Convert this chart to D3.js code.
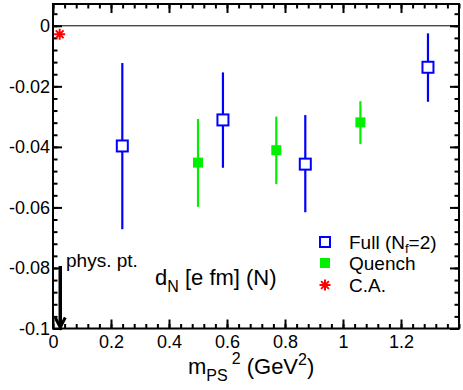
<!DOCTYPE html>
<html>
<head>
<meta charset="utf-8">
<script src="https://cdn.jsdelivr.net/npm/d3@7"></script>
<style>
  body { margin: 0; background: #fff; }
  svg { display: block; font-family: "Liberation Sans", Arial, sans-serif; }
</style>
</head>
<body>
<div id="chart"></div>
<script>
"use strict";

// Full (Nf=2) lattice points: x, central value, error bar top / bottom
const fullX = [0.239, 0.586, 0.870, 1.293];
const fullY = [-0.0397, -0.0311, -0.0457, -0.0137];
const fullHi = [-0.0123, -0.0154, -0.0295, -0.0025];
const fullLo = [-0.0672, -0.0469, -0.0616, -0.0251];

// Quenched points
const quenchX = [0.500, 0.770, 1.060];
const quenchY = [-0.0452, -0.0411, -0.0319];
const quenchHi = [-0.0308, -0.0300, -0.0249];
const quenchLo = [-0.0598, -0.0523, -0.0391];

// C.A. point
const caX = [0.023];
const caY = [-0.0028];

const xMajor = [0, 0.2, 0.4, 0.6, 0.8, 1, 1.2];
const yMajor = [0, -0.02, -0.04, -0.06, -0.08, -0.1];

const legendLabels = ["Full (N", "Quench", "C.A."];

const WIDTH = 463;
const HEIGHT = 390;
const LEFT = 53;
const RIGHT = 459;
const TOP = 4;
const BOTTOM = 328.5;

const BLUE = "#0000ff";
const GREEN = "#00f000";
const RED = "#ff0000";

const svg = d3.select("#chart").append("svg")
    .attr("width", WIDTH)
    .attr("height", HEIGHT);

const x = d3.scaleLinear().domain([0, 1.4]).range([LEFT, RIGHT]);
const y = d3.scaleLinear().domain([-0.1, 0.0072]).range([BOTTOM, TOP]);

const xMinor = d3.range(0, 1.4001, 0.04).map(function (d) { return +d.toFixed(2); });
const yMinor = d3.range(-0.1, 0.0072, 0.004).map(function (d) { return +d.toFixed(3); });

function fmt(d) {
    return d === 0 ? "0" : String(+d.toFixed(2));
}

function styleAxis(g) {
    g.select(".domain").remove();
    g.selectAll("line").attr("stroke", "#000").attr("stroke-width", 2);
    g.selectAll("text").attr("fill", "#000").style("font-size", "18px");
}

// minor ticks on all four sides
svg.append("g").attr("transform", "translate(0," + BOTTOM + ")")
    .call(d3.axisBottom(x).tickValues(xMinor).tickSize(-4.5).tickFormat(""))
    .call(styleAxis);
svg.append("g").attr("transform", "translate(0," + TOP + ")")
    .call(d3.axisTop(x).tickValues(xMinor).tickSize(-4.5).tickFormat(""))
    .call(styleAxis);
svg.append("g").attr("transform", "translate(" + LEFT + ",0)")
    .call(d3.axisLeft(y).tickValues(yMinor).tickSize(-4.5).tickFormat(""))
    .call(styleAxis);
svg.append("g").attr("transform", "translate(" + RIGHT + ",0)")
    .call(d3.axisRight(y).tickValues(yMinor).tickSize(-4.5).tickFormat(""))
    .call(styleAxis);

// major ticks with labels
svg.append("g").attr("transform", "translate(0," + BOTTOM + ")")
    .call(d3.axisBottom(x).tickValues(xMajor).tickSize(-9).tickPadding(7).tickFormat(fmt))
    .call(styleAxis);
svg.append("g").attr("transform", "translate(0," + TOP + ")")
    .call(d3.axisTop(x).tickValues(xMajor).tickSize(-9).tickFormat(""))
    .call(styleAxis);
svg.append("g").attr("transform", "translate(" + LEFT + ",0)")
    .call(d3.axisLeft(y).tickValues(yMajor).tickSize(-9).tickPadding(3).tickFormat(fmt))
    .call(styleAxis);
svg.append("g").attr("transform", "translate(" + RIGHT + ",0)")
    .call(d3.axisRight(y).tickValues(yMajor).tickSize(-9).tickFormat(""))
    .call(styleAxis);

// frame
svg.append("rect")
    .attr("x", LEFT).attr("y", TOP)
    .attr("width", RIGHT - LEFT).attr("height", BOTTOM - TOP)
    .attr("fill", "none").attr("stroke", "#000").attr("stroke-width", 2);

// zero line
svg.append("line")
    .attr("x1", LEFT).attr("x2", RIGHT)
    .attr("y1", y(0)).attr("y2", y(0))
    .attr("stroke", "#000").attr("stroke-width", 1);

// error bars
function errorBars(xs, lo, hi, color) {
    svg.append("g").selectAll("line")
        .data(xs)
        .enter().append("line")
        .attr("x1", function (d) { return x(d); })
        .attr("x2", function (d) { return x(d); })
        .attr("y1", function (d, i) { return y(hi[i]); })
        .attr("y2", function (d, i) { return y(lo[i]); })
        .attr("stroke", color)
        .attr("stroke-width", 2.2);
}
errorBars(fullX, fullLo, fullHi, BLUE);
errorBars(quenchX, quenchLo, quenchHi, GREEN);

// full: open squares
svg.append("g").selectAll("rect")
    .data(fullX)
    .enter().append("rect")
    .attr("x", function (d) { return x(d) - 5.5; })
    .attr("y", function (d, i) { return y(fullY[i]) - 5.5; })
    .attr("width", 11).attr("height", 11)
    .attr("fill", "#fff")
    .attr("stroke", BLUE).attr("stroke-width", 2);

// quench: filled squares
svg.append("g").selectAll("rect")
    .data(quenchX)
    .enter().append("rect")
    .attr("x", function (d) { return x(d) - 5; })
    .attr("y", function (d, i) { return y(quenchY[i]) - 5; })
    .attr("width", 10).attr("height", 10)
    .attr("fill", GREEN);

function asterisk(cx, cy, r) {
    const p = d3.path();
    for (let k = 0; k < 4; k++) {
        const a = k * Math.PI / 4;
        p.moveTo(cx - r * Math.cos(a), cy - r * Math.sin(a));
        p.lineTo(cx + r * Math.cos(a), cy + r * Math.sin(a));
    }
    return p.toString();
}

svg.append("g").selectAll("path")
    .data(caX)
    .enter().append("path")
    .attr("d", function (d, i) { return asterisk(x(d), y(caY[i]), 5.5); })
    .attr("stroke", RED).attr("stroke-width", 2);

// physical point arrow
const arrowX = 0.025;
svg.append("line")
    .attr("x1", x(arrowX)).attr("x2", x(arrowX))
    .attr("y1", 266).attr("y2", BOTTOM - 4)
    .attr("stroke", "#000").attr("stroke-width", 3.5);
svg.append("path")
    .attr("d", "M" + (x(arrowX) - 5) + "," + (BOTTOM - 11) + "L" + x(arrowX) + "," + (BOTTOM - 1) + "L" + (x(arrowX) + 5) + "," + (BOTTOM - 11))
    .attr("fill", "none").attr("stroke", "#000").attr("stroke-width", 3);
svg.append("text")
    .attr("x", 66).attr("y", 267)
    .style("font-size", "19px")
    .text("phys. pt.");

// observable label
const lab = svg.append("text")
    .attr("x", 155).attr("y", 285)
    .style("font-size", "22px");
lab.append("tspan").text("d");
lab.append("tspan").attr("dy", 7).style("font-size", "16px").text("N");
lab.append("tspan").attr("dy", -7).text(" [e fm] (N)");

// axis title
const xt = svg.append("text")
    .attr("x", 188).attr("y", 374)
    .style("font-size", "22px");
xt.append("tspan").text("m");
xt.append("tspan").attr("dy", 7).style("font-size", "16px").text("PS");
xt.append("tspan").attr("dx", 4).attr("dy", -17).style("font-size", "16px").text("2");
xt.append("tspan").attr("dy", 10).text(" (GeV");
xt.append("tspan").attr("dy", -9).style("font-size", "16px").text("2");
xt.append("tspan").attr("dy", 9).text(")");

// legend
const legX = 325;
const legY = [242, 263, 285];
svg.append("rect")
    .attr("x", legX - 5).attr("y", legY[0] - 5)
    .attr("width", 10).attr("height", 10)
    .attr("fill", "#fff").attr("stroke", BLUE).attr("stroke-width", 2);
svg.append("rect")
    .attr("x", legX - 5).attr("y", legY[1] - 5)
    .attr("width", 10).attr("height", 10)
    .attr("fill", GREEN);
svg.append("path")
    .attr("d", asterisk(legX, legY[2], 5.5))
    .attr("stroke", RED).attr("stroke-width", 2);

const lt = svg.append("g").selectAll("text")
    .data(legendLabels)
    .enter().append("text")
    .attr("x", 349)
    .attr("y", function (d, i) { return legY[i] + 7; })
    .style("font-size", "19px")
    .text(function (d) { return d; });
lt.filter(function (d, i) { return i === 0; })
    .append("tspan").attr("dy", 4).style("font-size", "13px").text("f");
lt.filter(function (d, i) { return i === 0; })
    .append("tspan").attr("dy", -4).text("=2)");
</script>
</body>
</html>
